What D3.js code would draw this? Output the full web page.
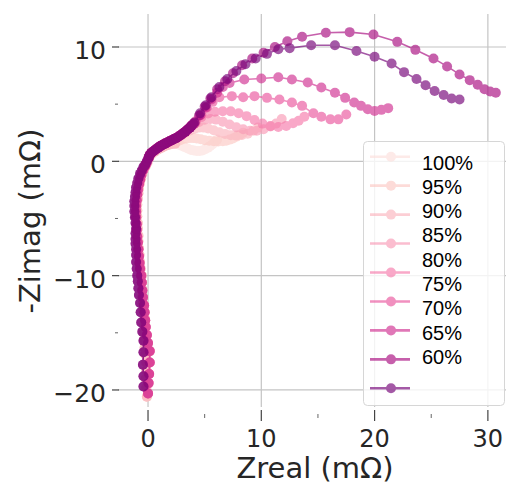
<!DOCTYPE html>
<html>
<head>
  <title>Nyquist plot</title>
  <script src="https://d3js.org/d3.v7.min.js"></script>
  <style>
    body { margin: 0; background: #fff; }
  </style>
</head>
<body>
  <div id="chart"></div>
  <script>
    // legend labels (first 9 series) and colours, light -> dark
    const labels = ["100%", "95%", "90%", "85%", "80%", "75%", "70%", "65%", "60%"];
    const colors = ["#fde0dd", "#fcc9c4", "#fbb4be", "#f99ab6", "#f67aab", "#ea559e", "#d12f91", "#a80a7f", "#750177"];

    const xTicks = [0, 10, 20, 30];
    const xMinor = [5, 15, 25];
    const yTicks = [-20, -10, 0, 10];
    const yMinor = [-15, -5, 5];

    // inductive tails (Zreal, -Zimag) in mOhm
    const tailLight = [[-0.1,-20.6],[-0.15,-19.8],[-0.2,-19.0],[-0.15,-18.3],[-0.15,-17.6],[-0.25,-16.9],[-0.3,-16.3],[-0.35,-15.6],[-0.35,-15.0],[-0.3,-14.3],[-0.3,-13.7],[-0.4,-13.0],[-0.45,-12.4],[-0.5,-11.8],[-0.5,-11.2],[-0.55,-10.6],[-0.55,-10.0],[-0.65,-9.4],[-0.7,-8.8],[-0.75,-8.2],[-0.8,-7.6],[-0.85,-7.0],[-0.85,-6.5],[-0.9,-5.9],[-0.9,-5.4],[-0.95,-4.8],[-0.95,-4.3],[-0.95,-3.8],[-0.9,-3.3],[-0.85,-2.8],[-0.8,-2.4],[-0.7,-1.9],[-0.6,-1.5],[-0.5,-1.1],[-0.35,-0.7],[-0.2,-0.4],[-0.05,-0.1]];
    const tailMid = [[0.0,-20.3],[0.05,-19.4],[0.1,-18.6],[0.15,-17.6],[0.15,-16.6],[0.0,-15.9],[-0.1,-15.2],[-0.2,-14.5],[-0.25,-13.9],[-0.3,-13.2],[-0.35,-12.6],[-0.45,-11.9],[-0.5,-11.3],[-0.55,-10.6],[-0.6,-10.0],[-0.7,-9.4],[-0.75,-8.9],[-0.8,-8.3],[-0.85,-7.7],[-0.9,-7.1],[-0.95,-6.6],[-1.0,-6.0],[-1.0,-5.5],[-1.05,-4.9],[-1.05,-4.4],[-1.05,-3.9],[-1.0,-3.4],[-0.95,-2.9],[-0.9,-2.5],[-0.8,-2.0],[-0.7,-1.6],[-0.6,-1.2],[-0.45,-0.8],[-0.3,-0.5],[-0.15,-0.2]];
    const tailDark = [[-0.4,-19.7],[-0.4,-18.8],[-0.45,-17.8],[-0.4,-16.7],[-0.4,-15.7],[-0.5,-14.9],[-0.6,-14.1],[-0.65,-13.2],[-0.7,-12.4],[-0.8,-11.7],[-0.85,-11.1],[-0.9,-10.5],[-0.95,-10.0],[-1.0,-9.4],[-1.05,-8.8],[-1.05,-8.2],[-1.05,-7.7],[-1.1,-7.2],[-1.1,-6.8],[-1.1,-6.3],[-1.05,-5.9],[-1.1,-5.4],[-1.15,-4.9],[-1.2,-4.4],[-1.2,-3.9],[-1.2,-3.5],[-1.15,-3.1],[-1.1,-2.7],[-1.05,-2.3],[-0.95,-1.9],[-0.85,-1.5],[-0.7,-1.1],[-0.55,-0.8],[-0.4,-0.5],[-0.25,-0.3],[-0.1,0.0]];

    // high-frequency shoulder
    const shoulderLight = [[0.1,0.3],[0.3,0.6],[0.6,0.85],[0.8,1.0],[1.0,1.1],[1.2,1.2],[1.4,1.3],[1.6,1.38],[1.8,1.45],[2.0,1.5],[2.2,1.55],[2.4,1.55]];
    const shoulder = [[0.05,0.3],[0.15,0.55],[0.3,0.75],[0.5,0.9],[0.7,1.05],[0.9,1.2],[1.1,1.33],[1.3,1.45],[1.5,1.55],[1.7,1.65],[1.9,1.75],[2.1,1.85],[2.3,1.95],[2.5,2.05],[2.7,2.17],[2.9,2.3],[3.1,2.45],[3.3,2.6],[3.5,2.78],[3.7,2.95],[3.85,3.12]];

    // main arcs
    const arc1 = [[2.6,1.5],[2.9,1.38],[3.2,1.25],[3.5,1.12],[3.8,1.0],[4.05,0.94],[4.3,0.9],[4.55,0.9],[4.8,0.95],[5.05,1.05],[5.3,1.2],[5.5,1.35],[5.7,1.5],[5.9,1.7],[6.1,1.9]];
    const arc2 = [[2.6,1.75],[2.85,1.85],[3.1,1.95],[3.4,2.0],[3.7,2.05],[4.0,2.03],[4.3,2.0],[4.65,1.93],[5.0,1.85],[5.4,1.8],[5.8,1.75],[6.2,1.73],[6.6,1.75],[6.9,1.8],[7.2,1.9],[7.5,2.0],[7.8,2.15],[8.1,2.3],[8.4,2.5]];
    const arc3 = [[2.7,2.1],[3.0,2.3],[3.3,2.5],[3.7,2.7],[4.1,2.85],[4.5,2.95],[4.9,2.95],[5.3,2.88],[5.8,2.72],[6.3,2.55],[6.8,2.4],[7.3,2.28],[7.8,2.25],[8.3,2.3],[8.8,2.42],[9.3,2.68],[9.7,2.95]];
    const arc4 = [[4.0,3.2],[4.5,3.45],[5.0,3.63],[5.5,3.7],[6.0,3.65],[6.6,3.47],[7.2,3.22],[7.8,2.98],[8.4,2.8],[9.0,2.67],[9.6,2.67],[10.2,2.8],[10.8,3.05],[11.3,3.3],[11.8,3.7]];
    const arc5 = [[4.2,3.4],[4.7,3.85],[5.3,4.18],[5.9,4.33],[6.6,4.38],[7.3,4.37],[8.0,4.2],[8.7,3.95],[9.4,3.62],[10.1,3.3],[10.8,3.08],[11.5,3.0],[12.2,3.1],[12.8,3.33],[13.3,3.55],[13.8,3.9]];
    const arc6 = [[4.2,3.5],[4.7,4.1],[5.2,4.7],[5.7,5.2],[6.3,5.6],[7.4,5.7],[8.4,5.6],[9.4,5.7],[10.5,5.55],[11.6,5.4],[12.7,5.15],[13.6,4.85],[14.6,4.2],[15.3,3.9],[16.1,3.67],[16.8,3.67],[17.5,4.1]];
    const arc7 = [[4.1,3.3],[4.6,4.0],[5.1,4.7],[5.6,5.4],[6.1,6.0],[6.6,6.5],[7.2,6.85],[8.5,7.15],[10.0,7.25],[11.5,7.35],[12.7,7.15],[14.1,6.9],[15.3,6.45],[16.5,6.0],[17.4,5.55],[18.2,5.15],[18.8,4.85],[19.4,4.55],[20.0,4.4],[20.6,4.5],[21.2,4.65]];
    const arc8 = [[4.0,3.3],[4.5,4.0],[5.0,4.8],[5.5,5.5],[6.1,6.3],[6.8,7.0],[7.5,7.7],[8.3,8.4],[9.2,9.0],[10.2,9.5],[11.2,10.0],[12.3,10.5],[13.6,10.9],[15.7,11.25],[17.8,11.3],[19.9,11.1],[22.0,10.45],[23.6,9.75],[25.2,9.0],[26.4,8.3],[27.5,7.6],[28.4,7.1],[29.1,6.7],[29.7,6.3],[30.2,6.1],[30.7,6.0]];
    const arc9 = [[4.1,3.4],[4.6,4.2],[5.1,4.9],[5.6,5.6],[6.3,6.5],[7.0,7.2],[7.8,7.9],[8.6,8.5],[9.5,9.0],[10.5,9.4],[11.5,9.8],[12.5,9.9],[14.4,10.15],[16.5,10.15],[18.4,9.65],[20.0,9.15],[21.5,8.55],[22.6,7.8],[23.7,7.2],[24.5,6.65],[25.3,6.15],[26.1,5.8],[26.8,5.5],[27.5,5.4]];

    const series = [
      tailLight.concat(shoulderLight, arc1),
      tailLight.concat(shoulderLight, arc2),
      tailLight.concat(shoulderLight, arc3),
      tailMid.concat(shoulder, arc4),
      tailMid.concat(shoulder, arc5),
      tailMid.concat(shoulder, arc6),
      tailMid.concat(shoulder, arc7),
      tailDark.concat(shoulder, arc8),
      tailDark.concat(shoulder, arc9)
    ];

    const W = 506, H = 485;
    const plotL = 118, plotR = 506, plotT = 14, plotB = 407;

    const svg = d3.select("#chart")
      .append("svg")
      .attr("width", W)
      .attr("height", H);

    const x = d3.scaleLinear().domain([-2.65, 31.6]).range([plotL, plotR]);
    const y = d3.scaleLinear().domain([-21.49, 12.886]).range([plotB, plotT]);

    // grid
    svg.append("g").selectAll("line")
      .data(xTicks)
      .enter().append("line")
      .attr("x1", d => x(d)).attr("x2", d => x(d))
      .attr("y1", plotT).attr("y2", plotB)
      .attr("stroke", "#c4c4c4").attr("stroke-width", 1.2);
    svg.append("g").selectAll("line")
      .data(yTicks)
      .enter().append("line")
      .attr("x1", plotL).attr("x2", plotR)
      .attr("y1", d => y(d)).attr("y2", d => y(d))
      .attr("stroke", "#c4c4c4").attr("stroke-width", 1.2);

    // ticks
    svg.append("g").selectAll("line")
      .data(xTicks)
      .enter().append("line")
      .attr("x1", d => x(d)).attr("x2", d => x(d))
      .attr("y1", 410).attr("y2", 421)
      .attr("stroke", "#444").attr("stroke-width", 1.2);
    svg.append("g").selectAll("line")
      .data(xMinor)
      .enter().append("line")
      .attr("x1", d => x(d)).attr("x2", d => x(d))
      .attr("y1", 414).attr("y2", 418)
      .attr("stroke", "#666").attr("stroke-width", 1);
    svg.append("g").selectAll("line")
      .data(yTicks)
      .enter().append("line")
      .attr("x1", 112).attr("x2", 119)
      .attr("y1", d => y(d)).attr("y2", d => y(d))
      .attr("stroke", "#444").attr("stroke-width", 1.2);
    svg.append("g").selectAll("line")
      .data(yMinor)
      .enter().append("line")
      .attr("x1", 115).attr("x2", 118)
      .attr("y1", d => y(d)).attr("y2", d => y(d))
      .attr("stroke", "#666").attr("stroke-width", 1);

    const fmt = d => d < 0 ? "\u2212" + Math.abs(d) : String(d);

    svg.append("g").selectAll("text")
      .data(xTicks)
      .enter().append("text")
      .attr("x", d => x(d))
      .attr("y", 447)
      .attr("text-anchor", "middle")
      .attr("font-family", "DejaVu Sans")
      .attr("font-size", 24)
      .attr("fill", "#262626")
      .text(fmt);
    svg.append("g").selectAll("text")
      .data(yTicks)
      .enter().append("text")
      .attr("x", 106)
      .attr("y", d => y(d) + 12)
      .attr("text-anchor", "end")
      .attr("font-family", "DejaVu Sans")
      .attr("font-size", 25)
      .attr("fill", "#262626")
      .text(fmt);

    // axis titles
    svg.append("text")
      .attr("x", 315).attr("y", 478)
      .attr("text-anchor", "middle")
      .attr("font-family", "DejaVu Sans")
      .attr("font-size", 29)
      .attr("fill", "#262626")
      .text("Zreal (m\u03a9)");
    svg.append("text")
      .attr("transform", "translate(40,221) rotate(-90)")
      .attr("text-anchor", "middle")
      .attr("font-family", "DejaVu Sans")
      .attr("font-size", 29)
      .attr("fill", "#262626")
      .text("-Zimag (m\u03a9)");

    // series
    const line = d3.line()
      .x(d => x(d[0]))
      .y(d => y(d[1]));

    const plot = svg.append("g");
    series.forEach((pts, i) => {
      const g = plot.append("g").attr("opacity", 0.65);
      g.append("path")
        .datum(pts)
        .attr("fill", "none")
        .attr("stroke", colors[i])
        .attr("stroke-width", 1.6)
        .attr("d", line);
      g.selectAll("circle")
        .data(pts)
        .enter().append("circle")
        .attr("cx", d => x(d[0]))
        .attr("cy", d => y(d[1]))
        .attr("r", 5)
        .attr("fill", colors[i]);
    });

    // legend
    const lg = svg.append("g");
    lg.append("rect")
      .attr("x", 363.5).attr("y", 141.5)
      .attr("width", 141).attr("height", 264)
      .attr("rx", 4)
      .attr("fill", "#fff").attr("fill-opacity", 0.8)
      .attr("stroke", "#d6d6d6").attr("stroke-width", 1);

    const markerY = i => 156.7 + i * 28.95;
    colors.forEach((c, i) => {
      const e = lg.append("g").attr("opacity", 0.65);
      e.append("line")
        .attr("x1", 370).attr("x2", 410)
        .attr("y1", markerY(i)).attr("y2", markerY(i))
        .attr("stroke", c).attr("stroke-width", 2.6);
      e.append("circle")
        .attr("cx", 391).attr("cy", markerY(i))
        .attr("r", 5)
        .attr("fill", c);
    });

    lg.selectAll("text")
      .data(labels)
      .enter().append("text")
      .attr("x", 422)
      .attr("y", (d, i) => 162.5 + i * 24.3 + 7)
      .attr("font-family", "Liberation Sans, Arial, sans-serif")
      .attr("font-size", 20)
      .attr("fill", "#000")
      .text(d => d);
  </script>
</body>
</html>
